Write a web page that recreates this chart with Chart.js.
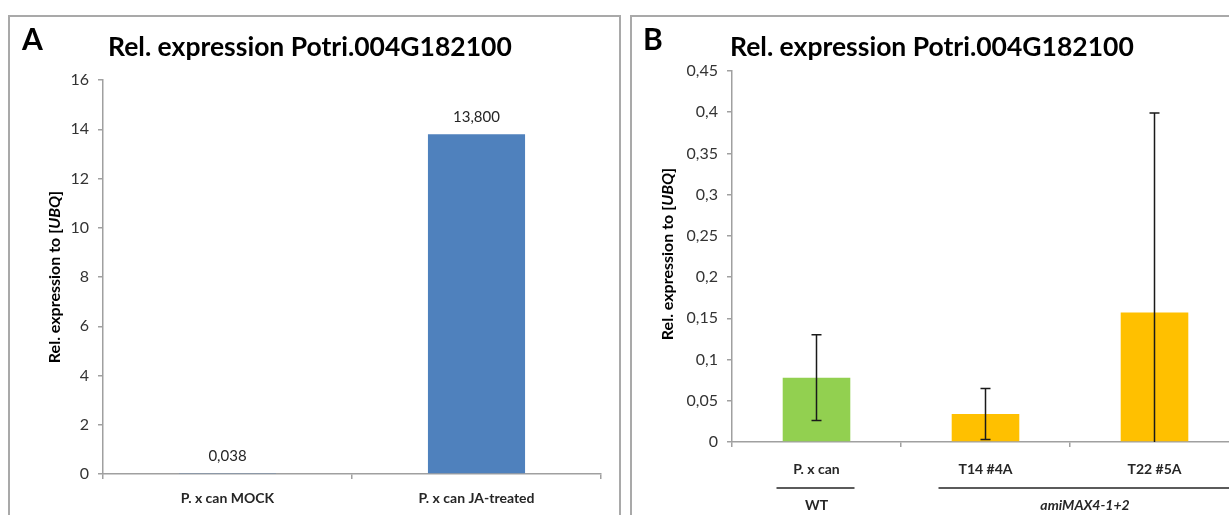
<!DOCTYPE html>
<html>
<head>
<meta charset="utf-8">
<script src="https://cdn.jsdelivr.net/npm/chart.js@4/dist/chart.umd.min.js"></script>
<style>
  html, body { margin: 0; padding: 0; background: #fff; overflow: hidden; }
  #wrap { position: relative; width: 1229px; height: 515px; overflow: hidden; }
  canvas { position: absolute; left: 0; top: 0; }
  .panel { position: absolute; border: 2px solid #a9a9a9; box-sizing: border-box; }
</style>
</head>
<body>
<div id="wrap">
  <div class="panel" style="left:8px; top:15px; width:613px; height:540px;"></div>
  <div class="panel" style="left:630px; top:15px; width:700px; height:540px;"></div>
  <canvas id="chartA" width="1229" height="515"></canvas>
  <canvas id="chartB" width="1260" height="515"></canvas>
</div>
<script>
// Panel A data
const catsA = ['P. x can MOCK', 'P. x can JA-treated'];
const valsA = [0.038, 13.8];
const valLabelsA = ['0,038', '13,800'];
const ticksA = ['0', '2', '4', '6', '8', '10', '12', '14', '16'];

// Panel B data
const catsB = ['P. x can', 'T14 #4A', 'T22 #5A'];
const valsB = [0.078, 0.034, 0.157];
const errB = [0.052, 0.031, 0.242];
const ticksB = ['0', '0,05', '0,1', '0,15', '0,2', '0,25', '0,3', '0,35', '0,4', '0,45'];

const TITLE = 'Rel. expression Potri.004G182100';
const FONT = 'Lato, "Open Sans", sans-serif';

// draws panel letter, title, y-axis title (with italic UBQ)
function drawHeader(ctx, letter, letterX, titleX, axisX, axisY) {
  ctx.save();
  ctx.fillStyle = '#000';
  ctx.textBaseline = 'middle';
  ctx.textAlign = 'left';
  ctx.font = 'bold 30px ' + FONT;
  ctx.fillText(letter, letterX, 40);
  ctx.font = 'bold 26.5px ' + FONT;
  ctx.fillText(TITLE, titleX, 47);

  // rotated axis title
  const parts = [['Rel. expression to [', 'bold'], ['UBQ', 'italic bold'], [']', 'bold']];
  const size = ' 16px ';
  let total = 0;
  parts.forEach(p => { ctx.font = p[1] + size + FONT; total += ctx.measureText(p[0]).width; });
  ctx.translate(axisX, axisY);
  ctx.rotate(-Math.PI / 2);
  let x = -total / 2;
  parts.forEach(p => {
    ctx.font = p[1] + size + FONT;
    ctx.fillText(p[0], x, 0);
    x += ctx.measureText(p[0]).width;
  });
  ctx.restore();
}

function yScale(ticks, max, step, width) {
  return {
    min: 0,
    max: max,
    ticks: {
      stepSize: step,
      color: '#333',
      font: { family: FONT, size: 16 },
      padding: 9,
      callback: (v, i) => ticks[i]
    },
    grid: { drawOnChartArea: false, tickLength: 5, color: '#a0a0a0', lineWidth: 1.5 },
    border: { color: '#a0a0a0', width: 1.5 },
    afterFit: s => { s.width = width; }
  };
}

function xScale(pad) {
  return {
    ticks: { color: '#262626', font: { family: FONT, size: 14, weight: 'bold' }, padding: pad },
    grid: { offset: true, drawOnChartArea: false, tickLength: 5, color: '#a0a0a0', lineWidth: 1.5 },
    border: { color: '#a0a0a0', width: 1.5 },
    afterFit: s => { s.height = 40; }
  };
}

new Chart(document.getElementById('chartA'), {
  type: 'bar',
  data: {
    labels: catsA,
    datasets: [{
      data: valsA,
      backgroundColor: '#4f81bd',
      categoryPercentage: 1,
      barPercentage: 0.39
    }]
  },
  options: {
    responsive: false,
    animation: false,
    layout: { padding: { left: 53, right: 628, top: 80, bottom: 1 } },
    plugins: { legend: { display: false }, tooltip: { enabled: false } },
    scales: { x: xScale(11), y: yScale(ticksA, 16, 2, 50) }
  },
  plugins: [{
    id: 'decorA',
    afterDraw(chart) {
      const ctx = chart.ctx;
      drawHeader(ctx, 'A', 22, 108, 55, 277);
      const meta = chart.getDatasetMeta(0);
      ctx.save();
      ctx.fillStyle = '#262626';
      ctx.font = '15px ' + FONT;
      ctx.textAlign = 'center';
      ctx.textBaseline = 'middle';
      meta.data.forEach((bar, i) => {
        ctx.fillText(valLabelsA[i], bar.x, bar.y - 17);
      });
      ctx.restore();
    }
  }]
});

new Chart(document.getElementById('chartB'), {
  type: 'bar',
  data: {
    labels: catsB,
    datasets: [{
      data: valsB,
      backgroundColor: ['#92d050', '#ffc000', '#ffc000'],
      categoryPercentage: 1,
      barPercentage: 0.4
    }]
  },
  options: {
    responsive: false,
    animation: false,
    layout: { padding: { left: 682, right: 21, top: 71, bottom: 33 } },
    plugins: { legend: { display: false }, tooltip: { enabled: false } },
    scales: { x: xScale(14), y: yScale(ticksB, 0.45, 0.05, 50) }
  },
  plugins: [{
    id: 'decorB',
    afterDatasetsDraw(chart) {
      // error bars
      const ctx = chart.ctx;
      const y = chart.scales.y;
      const area = chart.chartArea;
      const meta = chart.getDatasetMeta(0);
      ctx.save();
      ctx.beginPath();
      ctx.rect(area.left, area.top - 2, area.right - area.left, area.bottom - area.top + 2);
      ctx.clip();
      ctx.strokeStyle = '#1a1a1a';
      ctx.lineWidth = 1.5;
      meta.data.forEach((bar, i) => {
        const hi = y.getPixelForValue(valsB[i] + errB[i]);
        const lo = y.getPixelForValue(valsB[i] - errB[i]);
        ctx.beginPath();
        ctx.moveTo(bar.x, hi); ctx.lineTo(bar.x, lo);
        ctx.moveTo(bar.x - 5, hi); ctx.lineTo(bar.x + 5, hi);
        ctx.moveTo(bar.x - 5, lo); ctx.lineTo(bar.x + 5, lo);
        ctx.stroke();
      });
      ctx.restore();
    },
    afterDraw(chart) {
      const ctx = chart.ctx;
      drawHeader(ctx, 'B', 643, 730, 668, 254);
      // group labels under the categories
      const x = chart.scales.x;
      const c0 = x.getPixelForValue(0), c1 = x.getPixelForValue(1), c2 = x.getPixelForValue(2);
      ctx.save();
      ctx.strokeStyle = '#262626';
      ctx.lineWidth = 1.5;
      ctx.beginPath();
      ctx.moveTo(c0 - 40, 488); ctx.lineTo(c0 + 38, 488);
      ctx.moveTo(c1 - 47, 488); ctx.lineTo(c2 + 90, 488);
      ctx.stroke();
      ctx.fillStyle = '#262626';
      ctx.textAlign = 'center';
      ctx.textBaseline = 'middle';
      ctx.font = 'bold 14px ' + FONT;
      ctx.fillText('WT', c0, 505);
      ctx.font = 'italic bold 14px ' + FONT;
      ctx.fillText('amiMAX4-1+2', (c1 + c2) / 2 + 15, 505);
      ctx.restore();
    }
  }]
});
</script>
</body>
</html>
